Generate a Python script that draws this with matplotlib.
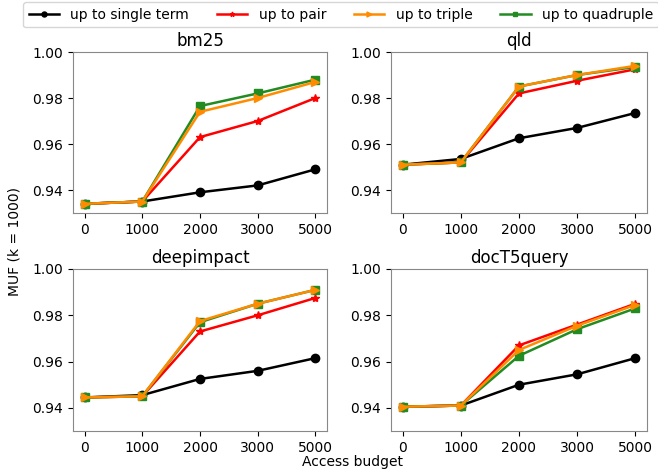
import matplotlib
matplotlib.use("Agg")
import matplotlib.pyplot as plt
import numpy as np

budgets = ["0", "1000", "2000", "3000", "5000"]
datasets = ["bm25", "qld", "deepimpact", "docT5query"]
series_names = ["up to single term", "up to pair", "up to triple", "up to quadruple"]

bm25_single = [0.934, 0.935, 0.939, 0.942, 0.949]
bm25_pair = [0.934, 0.935, 0.963, 0.970, 0.980]
bm25_triple = [0.934, 0.935, 0.974, 0.980, 0.987]
bm25_quad = [0.934, 0.935, 0.9765, 0.982, 0.988]

qld_single = [0.951, 0.9535, 0.9625, 0.967, 0.9735]
qld_pair = [0.951, 0.952, 0.982, 0.9875, 0.9925]
qld_triple = [0.951, 0.952, 0.985, 0.990, 0.994]
qld_quad = [0.951, 0.952, 0.985, 0.990, 0.9935]

deep_single = [0.9445, 0.9455, 0.9525, 0.956, 0.9615]
deep_pair = [0.9445, 0.945, 0.973, 0.980, 0.9875]
deep_triple = [0.9445, 0.945, 0.9775, 0.985, 0.991]
deep_quad = [0.9445, 0.945, 0.977, 0.985, 0.991]

t5_single = [0.9405, 0.941, 0.950, 0.9545, 0.9615]
t5_pair = [0.9405, 0.941, 0.967, 0.976, 0.985]
t5_triple = [0.9405, 0.941, 0.965, 0.9755, 0.9845]
t5_quad = [0.9405, 0.941, 0.9625, 0.974, 0.983]

all_data = {
    "bm25": [bm25_single, bm25_pair, bm25_triple, bm25_quad],
    "qld": [qld_single, qld_pair, qld_triple, qld_quad],
    "deepimpact": [deep_single, deep_pair, deep_triple, deep_quad],
    "docT5query": [t5_single, t5_pair, t5_triple, t5_quad],
}

colors = ["black", "red", "darkorange", "forestgreen"]
markers = ["o", "*", ">", "s"]
zorders = [2, 3, 5, 4]

fig = plt.figure(figsize=(6.58, 4.75), dpi=100)
W, H = 658, 475
boxes = [(73, 52, 327, 213), (391, 52, 647, 213), (73, 269, 327, 431), (391, 269, 647, 431)]
x = np.arange(len(budgets))
handles = []
for ds, (l, t, r, b) in zip(datasets, boxes):
    ax = fig.add_axes([l / W, 1 - b / H, (r - l) / W, (b - t) / H])
    for i, (name, vals) in enumerate(zip(series_names, all_data[ds])):
        h, = ax.plot(x, vals, color=colors[i], marker=markers[i], markersize=6,
                     linewidth=1.8, label=name, zorder=zorders[i])
        if ds == "bm25":
            handles.append(h)
    ax.set_ylim(0.93, 1.0)
    ax.set_yticks([0.94, 0.96, 0.98, 1.00])
    ax.set_yticklabels(["0.94", "0.96", "0.98", "1.00"])
    ax.set_xticks(x)
    ax.set_xticklabels(budgets)
    ax.set_xlim(-0.2, 4.2)
    ax.tick_params(labelsize=10)
    ax.set_title(ds, fontsize=12, pad=4)
    for s in ax.spines.values():
        s.set_color("#888888")

fig.legend(handles=handles, labels=series_names, loc="upper center", ncol=4,
           bbox_to_anchor=(0.518, 0.998), fontsize=10, frameon=True,
           handlelength=2.2, columnspacing=2.0, borderaxespad=0.1, markerscale=0.6)
fig.text(352 / W, 1 - 462 / H, "Access budget", ha="center", va="center", fontsize=10)
fig.text(15 / W, 1 - 241 / H, "MUF (k = 1000)", ha="center", va="center", rotation=90, fontsize=10)

fig.savefig("out.png", dpi=100)
